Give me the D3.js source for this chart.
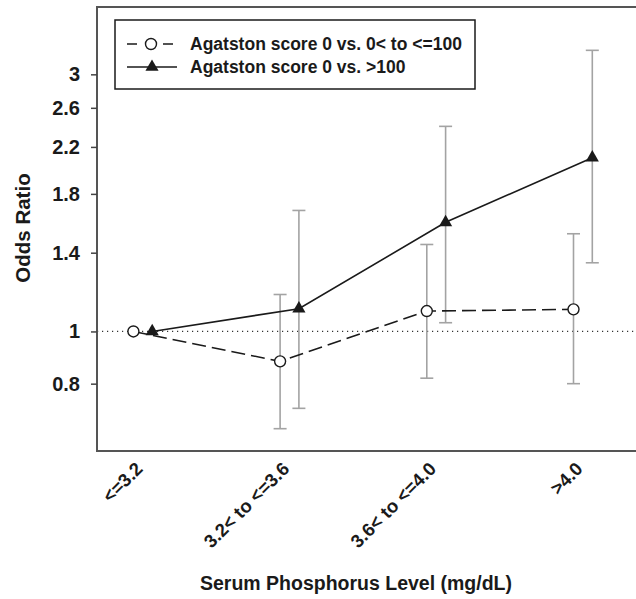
<!DOCTYPE html>
<html>
<head>
<meta charset="utf-8">
<script src="https://cdn.jsdelivr.net/npm/d3@7"></script>
<style>
  html, body { margin: 0; padding: 0; background: #fff; }
  svg { display: block; font-family: "Liberation Sans", Arial, sans-serif; }
</style>
</head>
<body>
<svg id="chart" width="636" height="599"></svg>
<script>
// ---- data ----
const categories = ["<=3.2", "3.2< to <=3.6", "3.6< to <=4.0", ">4.0"];
const seriesNames = ["Agatston score 0 vs. 0< to <=100", "Agatston score 0 vs. >100"];
const orLow   = [1.00, 0.880, 1.091, 1.099];   // 0 vs 0< to <=100
const ciLowLo = [null, 0.660, 0.819, 0.800];
const ciLowHi = [null, 1.171, 1.450, 1.518];
const orHigh   = [1.00, 1.102, 1.594, 2.101]; // 0 vs >100
const ciHighLo = [null, 0.720, 1.038, 1.341];
const ciHighHi = [null, 1.677, 2.402, 3.324];
const yTicks = [0.8, 1, 1.4, 1.8, 2.2, 2.6, 3];
const yDomain = [0.6, 4.0];

// ---- layout ----
const svg = d3.select("#chart");
const L = 97, T = 7, B = 451, R = 640;

const y = d3.scaleLog().domain(yDomain).range([B, T]);
const x = d3.scalePoint().domain(categories).range([142.8, 582.9]);
const off = 9.4;

// reference line at OR = 1
svg.append("line")
  .attr("x1", L).attr("x2", R)
  .attr("y1", y(1)).attr("y2", y(1))
  .attr("stroke", "#333").attr("stroke-width", 1.2)
  .attr("stroke-dasharray", "1.2,3.8");

// error bars
function errBars(lo, hi, dx) {
  const g = svg.append("g").attr("stroke", "#a3a3a3").attr("stroke-width", 1.6).attr("fill", "none");
  categories.forEach((c, i) => {
    if (lo[i] == null) return;
    const cx = x(c) + dx;
    g.append("line").attr("x1", cx).attr("x2", cx).attr("y1", y(lo[i])).attr("y2", y(hi[i]));
    g.append("line").attr("x1", cx - 6.5).attr("x2", cx + 6.5).attr("y1", y(lo[i])).attr("y2", y(lo[i]));
    g.append("line").attr("x1", cx - 6.5).attr("x2", cx + 6.5).attr("y1", y(hi[i])).attr("y2", y(hi[i]));
  });
}
errBars(ciLowLo, ciLowHi, -off);
errBars(ciHighLo, ciHighHi, off);

// lines
const lineLow = d3.line().x((d, i) => x(categories[i]) - off).y(d => y(d));
const lineHigh = d3.line().x((d, i) => x(categories[i]) + off).y(d => y(d));
svg.append("path").datum(orLow).attr("d", lineLow)
  .attr("fill", "none").attr("stroke", "#1a1a1a").attr("stroke-width", 1.6)
  .attr("stroke-dasharray", "14,6");
svg.append("path").datum(orHigh).attr("d", lineHigh)
  .attr("fill", "none").attr("stroke", "#1a1a1a").attr("stroke-width", 1.6);

// markers
svg.append("g").selectAll("circle").data(orLow).join("circle")
  .attr("cx", (d, i) => x(categories[i]) - off).attr("cy", d => y(d))
  .attr("r", 5.5).attr("fill", "#fff").attr("stroke", "#1a1a1a").attr("stroke-width", 1.4);
const tri = d3.symbol().type(d3.symbolTriangle).size(75);
svg.append("g").selectAll("path").data(orHigh).join("path")
  .attr("d", tri)
  .attr("transform", (d, i) => `translate(${x(categories[i]) + off},${y(d)})`)
  .attr("fill", "#1a1a1a");

// frame (left, top, bottom)
svg.append("path")
  .attr("d", `M${R},${T}H${L}V${B}H${R}`)
  .attr("fill", "none").attr("stroke", "#555").attr("stroke-width", 2);

// y axis
const yAxis = d3.axisLeft(y).tickValues(yTicks).tickFormat(d3.format("")).tickSize(6).tickPadding(11);
const gy = svg.append("g").attr("transform", `translate(${L},0)`).call(yAxis);
gy.select(".domain").remove();
gy.selectAll(".tick line").attr("stroke", "#444").attr("stroke-width", 1.5);
gy.selectAll(".tick text").attr("fill", "#1a1a1a")
  .style("font-size", "20px").style("font-weight", "bold")
  .style("font-family", "'Liberation Sans', Arial, sans-serif");

// x tick labels (rotated)
svg.append("g").selectAll("text").data(categories).join("text")
  .attr("transform", d => `translate(${x(d) + 1},${470}) rotate(-45)`)
  .attr("text-anchor", "end")
  .attr("fill", "#1a1a1a")
  .style("font-size", "18.5px").style("font-weight", "bold")
  .text(d => d);

// axis titles
svg.append("text")
  .attr("transform", `translate(30,228) rotate(-90)`)
  .attr("text-anchor", "middle").attr("fill", "#1a1a1a")
  .style("font-size", "20.5px").style("font-weight", "bold")
  .text("Odds Ratio");
svg.append("text")
  .attr("x", 356).attr("y", 590)
  .attr("text-anchor", "middle").attr("fill", "#1a1a1a")
  .style("font-size", "19.5px").style("font-weight", "bold")
  .text("Serum Phosphorus Level (mg/dL)");

// legend
const lg = svg.append("g");
lg.append("rect").attr("x", 115).attr("y", 20).attr("width", 360).attr("height", 69)
  .attr("fill", "#fff").attr("stroke", "#1a1a1a").attr("stroke-width", 1.5);
const rows = [44, 67];
lg.append("line").attr("x1", 127).attr("x2", 173).attr("y1", rows[0]).attr("y2", rows[0])
  .attr("stroke", "#1a1a1a").attr("stroke-width", 1.5).attr("stroke-dasharray", "10,26,10");
lg.append("circle").attr("cx", 151).attr("cy", rows[0]).attr("r", 5.5)
  .attr("fill", "#fff").attr("stroke", "#1a1a1a").attr("stroke-width", 1.4);
lg.append("line").attr("x1", 127).attr("x2", 177).attr("y1", rows[1]).attr("y2", rows[1])
  .attr("stroke", "#1a1a1a").attr("stroke-width", 1.5);
lg.append("path").attr("d", tri).attr("transform", `translate(152,${rows[1]})`).attr("fill", "#1a1a1a");
lg.selectAll("text.lt").data(seriesNames).join("text")
  .attr("class", "lt")
  .attr("x", 190).attr("y", (d, i) => rows[i] + 6)
  .attr("fill", "#1a1a1a")
  .style("font-size", "17.5px").style("font-weight", "bold")
  .text(d => d);
</script>
</body>
</html>
